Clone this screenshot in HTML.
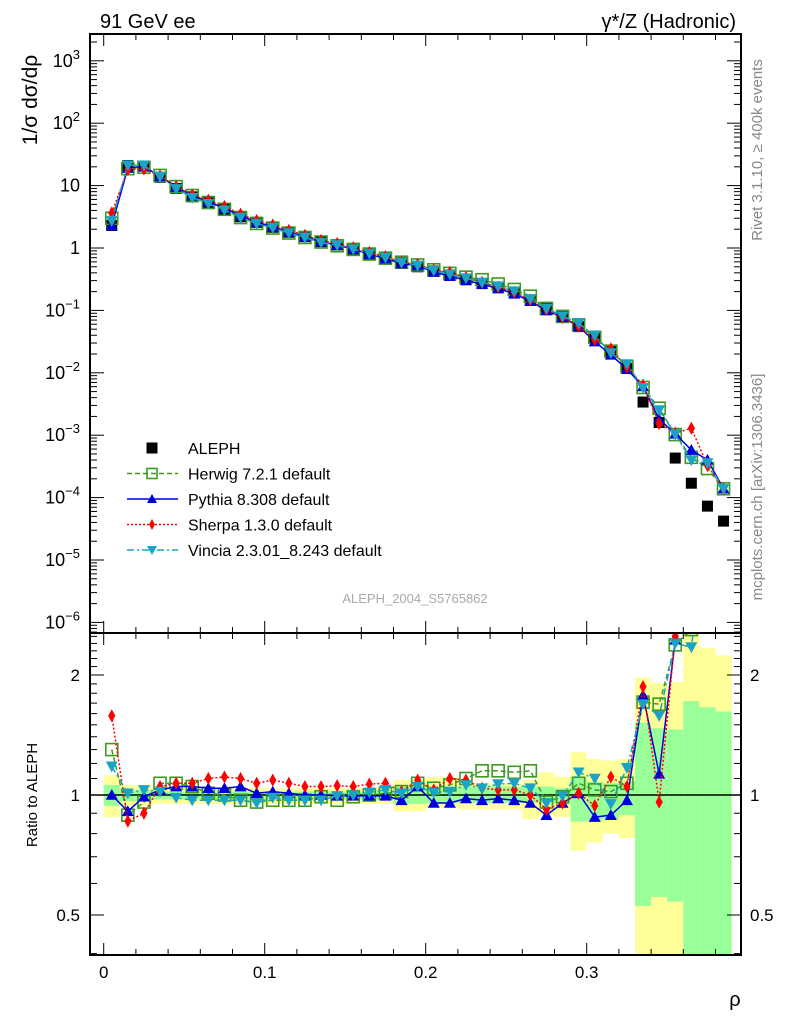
<!DOCTYPE html>
<html><head><meta charset="utf-8"><style>
html,body{margin:0;padding:0;background:#fff;}
svg{display:block;font-family:"Liberation Sans",sans-serif;}
</style></head><body>
<svg id="chart" width="786" height="1024" viewBox="0 0 786 1024">
<defs>
<clipPath id="cm"><rect x="90" y="34" width="651" height="599"/></clipPath>
<clipPath id="cr"><rect x="90" y="633" width="651" height="322"/></clipPath>
</defs>
<g id="bands" clip-path="url(#cr)"></g>
<g id="ratio" clip-path="url(#cr)"></g>
<g id="main" clip-path="url(#cm)"></g>
<g id="axes"></g>
<text x="100" y="28" font-size="20">91 GeV ee</text>
<text x="736" y="28" font-size="20" text-anchor="end">γ*/Z (Hadronic)</text>
<text transform="translate(37,100) rotate(-90)" font-size="21" text-anchor="middle">1/σ  dσ/dρ</text>
<text transform="translate(37,795) rotate(-90)" font-size="15" text-anchor="middle">Ratio to ALEPH</text>
<text x="735" y="1006" font-size="20" text-anchor="middle">ρ</text>
<text transform="translate(762,150) rotate(-90)" font-size="15" fill="#888" text-anchor="middle">Rivet 3.1.10, ≥ 400k events</text>
<text transform="translate(762,487) rotate(-90)" font-size="15" fill="#888" text-anchor="middle">mcplots.cern.ch [arXiv:1306.3436]</text>
<text x="415" y="603" font-size="13" fill="#aaa" text-anchor="middle">ALEPH_2004_S5765862</text>
<g id="legend"></g>
</svg>
<script>
const rhoCenters=[0.005,0.015,0.025,0.035,0.045,0.055,0.065,0.075,0.085,0.095,0.105,0.115,0.125,0.135,0.145,0.155,0.165,0.175,0.185,0.195,0.205,0.215,0.225,0.235,0.245,0.255,0.265,0.275,0.285,0.295,0.305,0.315,0.325,0.335,0.345,0.355,0.365,0.375,0.385];
const aleph=[2.3,21,20.5,13.6,9.0,6.6,5.3,4.17,3.17,2.58,2.15,1.79,1.52,1.26,1.12,0.96,0.80,0.68,0.58,0.50,0.43,0.37,0.31,0.27,0.23,0.19,0.147,0.112,0.081,0.055,0.036,0.0218,0.0118,0.0034,0.0016,0.00043,0.00017,0.000073,0.000042];
const herwigRatio=[1.30,0.89,0.96,1.07,1.07,1.05,1.01,1.0,0.97,0.96,0.97,0.97,0.97,0.99,0.97,0.99,1.0,1.01,1.02,1.07,1.04,1.06,1.10,1.15,1.15,1.14,1.15,0.96,0.99,1.07,1.03,1.02,1.07,1.71,1.69,2.38,2.6,4.0,3.3];
const pythiaRatio=[1.0,0.91,0.99,1.03,1.05,1.05,1.04,1.04,1.05,1.01,1.02,1.01,1.0,1.0,0.995,0.995,0.995,0.995,0.97,1.05,0.955,0.955,0.98,0.97,0.98,0.97,0.955,0.89,0.955,1.01,0.88,0.89,0.97,1.78,1.13,2.45,3.4,5.5,3.3];
const sherpaRatio=[1.58,0.86,0.9,1.05,1.07,1.07,1.10,1.11,1.10,1.07,1.09,1.07,1.05,1.05,1.055,1.05,1.065,1.07,1.02,1.09,1.03,1.10,1.09,1.04,1.03,1.03,1.0,0.92,0.955,1.01,0.94,1.11,1.05,1.87,0.96,2.5,7.6,4.5,3.3];
const vinciaRatio=[1.18,1.01,1.03,1.02,0.985,0.97,0.97,0.97,0.97,0.955,0.985,0.97,0.97,0.97,0.995,1.0,1.015,1.03,1.01,1.05,1.015,1.02,1.06,1.04,1.065,1.07,1.04,0.955,0.995,1.14,1.10,0.95,1.17,1.69,1.58,2.4,2.35,4.9,3.3];
const yellowHi=[1.12,1.06,1.06,1.04,1.04,1.04,1.04,1.04,1.04,1.04,1.04,1.04,1.04,1.04,1.04,1.04,1.04,1.04,1.09,1.09,1.11,1.11,1.07,1.07,1.07,1.07,1.09,1.14,1.11,1.28,1.23,1.22,1.23,1.97,1.91,1.92,3.0,2.34,2.24];
const yellowLo=[0.88,0.94,0.94,0.95,0.95,0.95,0.95,0.95,0.95,0.95,0.95,0.95,0.95,0.95,0.95,0.95,0.95,0.95,0.91,0.91,0.93,0.93,0.92,0.92,0.92,0.92,0.87,0.89,0.88,0.725,0.76,0.80,0.78,0.2,0.2,0.2,0.2,0.2,0.2];
const greenHi=[1.06,1.03,1.03,1.02,1.02,1.02,1.02,1.02,1.02,1.02,1.02,1.02,1.02,1.02,1.02,1.02,1.02,1.02,1.05,1.05,1.05,1.05,1.05,1.05,1.05,1.05,1.05,1.05,1.04,1.11,1.08,1.07,1.08,1.52,1.47,1.46,1.72,1.66,1.62];
const greenLo=[0.94,0.965,0.965,0.975,0.975,0.975,0.975,0.975,0.975,0.975,0.975,0.975,0.975,0.975,0.975,0.975,0.975,0.975,0.95,0.95,0.955,0.955,0.955,0.955,0.955,0.955,0.955,0.955,0.95,0.857,0.86,0.87,0.89,0.527,0.555,0.54,0.2,0.2,0.2];
const binWidth=0.01;
const mainTickExps=[-6,-5,-4,-3,-2,-1,0,1,2,3];
const xTickLabels=["0","0.1","0.2","0.3"];

const NS="http://www.w3.org/2000/svg";
const X=r=>103.7+r*1610;
const YM=v=>248-62.4*Math.log10(v);
const YR=r=>795-120*Math.log2(r);
function mk(tag,attrs,parent){const e=document.createElementNS(NS,tag);for(const k in attrs)e.setAttribute(k,attrs[k]);parent.appendChild(e);return e;}

const gb=document.getElementById('bands');
rhoCenters.forEach((c,i)=>{
  const x0=X(c-binWidth/2),x1=X(c+binWidth/2);
  const y=mk('rect',{x:x0,y:YR(yellowHi[i]),width:x1-x0,height:YR(yellowLo[i])-YR(yellowHi[i]),fill:'#ffff99'},gb);
  
  
  const g=mk('rect',{x:x0,y:YR(greenHi[i]),width:x1-x0,height:YR(greenLo[i])-YR(greenHi[i]),fill:'#99ff99'},gb);
  
  
});
const gr=document.getElementById('ratio');
const gm=document.getElementById('main');
const unity=mk('line',{x1:90,x2:741,y1:YR(1),y2:YR(1),stroke:'#000','stroke-width':1.5},gr);



const series=[
 {name:'herwig',ratio:herwigRatio,color:'#3d9a1e',dash:'5,3',marker:'sq'},
 {name:'pythia',ratio:pythiaRatio,color:'#0000dd',dash:'',marker:'tu'},
 {name:'sherpa',ratio:sherpaRatio,color:'#ff0000',dash:'2,2',marker:'di'},
 {name:'vincia',ratio:vinciaRatio,color:'#1ba3c6',dash:'7,3,2,3',marker:'td'}
];
function marker(type,x,y,col,parent,s){
  s=s||6;let e;
  if(type==='sq') e=mk('rect',{x:x-s,y:y-s,width:2*s,height:2*s,fill:'none',stroke:col,'stroke-width':1.6},parent);
  else if(type==='tu') e=mk('polygon',{points:`${x},${y-s} ${x-s},${y+s*0.8} ${x+s},${y+s*0.8}`,fill:col},parent);
  else if(type==='td') e=mk('polygon',{points:`${x},${y+s} ${x-s},${y-s*0.8} ${x+s},${y-s*0.8}`,fill:col},parent);
  else if(type==='di') e=mk('polygon',{points:`${x},${y-s*1.1} ${x-s*0.6},${y} ${x},${y+s*1.1} ${x+s*0.6},${y}`,fill:col},parent);
  else e=mk('rect',{x:x-s,y:y-s,width:2*s,height:2*s,fill:col},parent);
  return e;
}
rhoCenters.forEach((c,i)=>{
  const m=marker('box',X(c),YM(aleph[i]),'#000',gm,5.5);
  
  
});
series.forEach(s=>{
  const mainPts=rhoCenters.map((c,i)=>[X(c),YM(aleph[i]*s.ratio[i])]);
  const ratPts=rhoCenters.map((c,i)=>[X(c),YR(s.ratio[i])]);
  const l1=mk('polyline',{points:mainPts.map(p=>p.join(',')).join(' '),fill:'none',stroke:s.color,'stroke-width':1.5,'stroke-dasharray':s.dash},gm);
  
  
  const l2=mk('polyline',{points:ratPts.map(p=>p.join(',')).join(' '),fill:'none',stroke:s.color,'stroke-width':1.5,'stroke-dasharray':s.dash},gr);
  
  
  mainPts.forEach(p=>{const m=marker(s.marker,p[0],p[1],s.color,gm);
    
    });
  ratPts.forEach(p=>{const m=marker(s.marker,p[0],p[1],s.color,gr);
    
    });
});

const ga=document.getElementById('axes');
mk('rect',{x:90,y:34,width:651,height:921,fill:'none',stroke:'#000','stroke-width':2},ga);
mk('line',{x1:90,x2:741,y1:633,y2:633,stroke:'#000','stroke-width':2},ga);
function tk(x1,y1,x2,y2){mk('line',{x1,y1,x2,y2,stroke:'#000','stroke-width':1},ga);}
for(let k=0;k<=19;k++){const r=k*0.02;const x=X(r);if(x>741)break;const maj=(k%5===0);const L=maj?12:6;
  [34,633,955].forEach(yb=>{ if(yb!==34) tk(x,yb,x,yb-L); if(yb!==955) tk(x,yb,x,yb+L);});
}
xTickLabels.forEach((t,i)=>{const tx=mk('text',{x:X(i*0.1),y:978,'font-size':17,'text-anchor':'middle'},ga);tx.textContent=t;
  
  });
for(let d=-7;d<=3;d++){for(let m=1;m<=9;m++){const v=m*Math.pow(10,d);const y=YM(v);if(y<34||y>633)continue;const L=m===1?14:7;tk(90,y,90+L,y);tk(741,y,741-L,y);}}
mainTickExps.forEach(d=>{const y=YM(Math.pow(10,d));
  const tx=mk('text',{x:80,y:y+6,'font-size':18,'text-anchor':'end'},ga);
  
  
  if(d===0){tx.textContent='1';}
  else if(d===1){tx.textContent='10';}
  else{
    const a=mk('tspan',{},tx);a.textContent='10';
    const b=mk('tspan',{dy:-8,'font-size':13},tx);b.textContent=(d<0?'−':'')+Math.abs(d);
  }
});
[0.4,0.5,0.6,0.7,0.8,0.9,1,1.1,1.2,1.3,1.4,1.5,1.6,1.7,1.8,1.9,2,2.1,2.2,2.3,2.4,2.5].forEach(r=>{const y=YR(r);if(y<633||y>955)return;const maj=(r===0.5||r===1||r===2);const L=maj?14:7;tk(90,y,90+L,y);tk(741,y,741-L,y);});
[["2",2],["1",1],["0.5",0.5]].forEach(([t,r])=>{
  const a=mk('text',{x:80,y:YR(r)+6,'font-size':17,'text-anchor':'end'},ga);a.textContent=t;
  
  
  const b=mk('text',{x:750,y:YR(r)+6,'font-size':17,'text-anchor':'start'},ga);b.textContent=t;
  
  
});
const gl=document.getElementById('legend');
const legItems=[["ALEPH",'box','#000',''],["Herwig 7.2.1 default",'sq','#3d9a1e','5,3'],["Pythia 8.308 default",'tu','#0000dd',''],["Sherpa 1.3.0 default",'di','#ff0000','2,2'],["Vincia 2.3.01_8.243 default",'td','#1ba3c6','7,3,2,3']];
legItems.forEach((it,i)=>{const y=448+i*25.5;
  const g=mk('g',{},gl);
  
  
  if(i>0) mk('line',{x1:127,x2:178,y1:y,y2:y,stroke:it[2],'stroke-width':1.5,'stroke-dasharray':it[3]},g);
  marker(it[1],152,y,it[2],g,i===0?5.5:5);
  const t=mk('text',{x:188,y:y+6,'font-size':16},g);t.textContent=it[0];
});
</script>
</body></html>
